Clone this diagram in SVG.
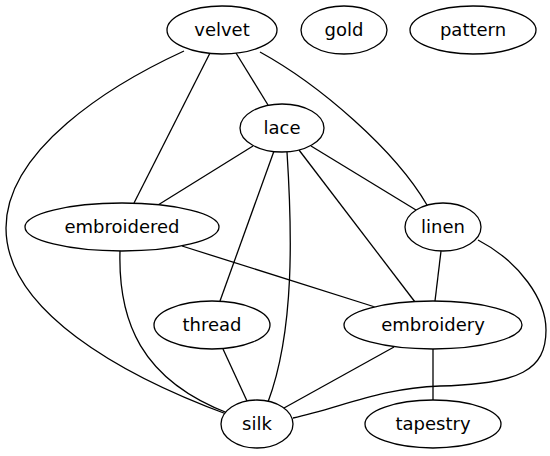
<svg xmlns="http://www.w3.org/2000/svg" width="550" height="456" viewBox="0 0 550 456">
<style>
.n ellipse{fill:#fff;stroke:#000;stroke-width:1.3}
.n text{font-family:"DejaVu Sans",sans-serif;font-size:18px;text-anchor:middle;fill:#000}
#edges path{fill:none;stroke:#000;stroke-width:1.3}
</style>
<rect width="550" height="456" fill="#fff"/>
<g id="edges">
<path d="M236,53 L268,105"/>
<path d="M210,53 L134,203"/>
<path d="M260,52 C320,85 395,150 427,205"/>
<path d="M184,51 C110,85 6,150 6,228 C6,310 120,375 229,415"/>
<path d="M253,146 L158,205"/>
<path d="M311,146 L416,210"/>
<path d="M299,150 L415,302"/>
<path d="M274,151 L220,301"/>
<path d="M287,152 C292,230 295,330 268,402"/>
<path d="M182,246 L375,307"/>
<path d="M120,251 C118,320 140,380 230,414"/>
<path d="M441,251 L435,301"/>
<path d="M478,240 C520,262 546,300 546,330 C546,370 520,384 440,386 C380,388 340,408 293,418"/>
<path d="M223,349 L247,401"/>
<path d="M394,347 L284,408"/>
<path d="M433,349 L433,400"/>
</g>
<g id="velvet" class="n"><ellipse cx="222" cy="30" rx="55" ry="24"/><text x="222" y="36">velvet</text></g>
<g id="gold" class="n"><ellipse cx="344" cy="30" rx="43" ry="24"/><text x="344" y="36">gold</text></g>
<g id="pattern" class="n"><ellipse cx="473" cy="30" rx="63" ry="24"/><text x="473" y="36">pattern</text></g>
<g id="lace" class="n"><ellipse cx="282" cy="128" rx="42" ry="24"/><text x="282" y="134">lace</text></g>
<g id="embroidered" class="n"><ellipse cx="122" cy="227" rx="97" ry="24"/><text x="122" y="233">embroidered</text></g>
<g id="linen" class="n"><ellipse cx="443" cy="227" rx="38" ry="24"/><text x="443" y="233">linen</text></g>
<g id="thread" class="n"><ellipse cx="212" cy="325" rx="58" ry="24"/><text x="212" y="331">thread</text></g>
<g id="embroidery" class="n"><ellipse cx="433" cy="325" rx="89" ry="24"/><text x="433" y="331">embroidery</text></g>
<g id="silk" class="n"><ellipse cx="257" cy="424" rx="36" ry="24"/><text x="257" y="430">silk</text></g>
<g id="tapestry" class="n"><ellipse cx="433" cy="424" rx="68" ry="24"/><text x="433" y="430">tapestry</text></g>
</svg>
